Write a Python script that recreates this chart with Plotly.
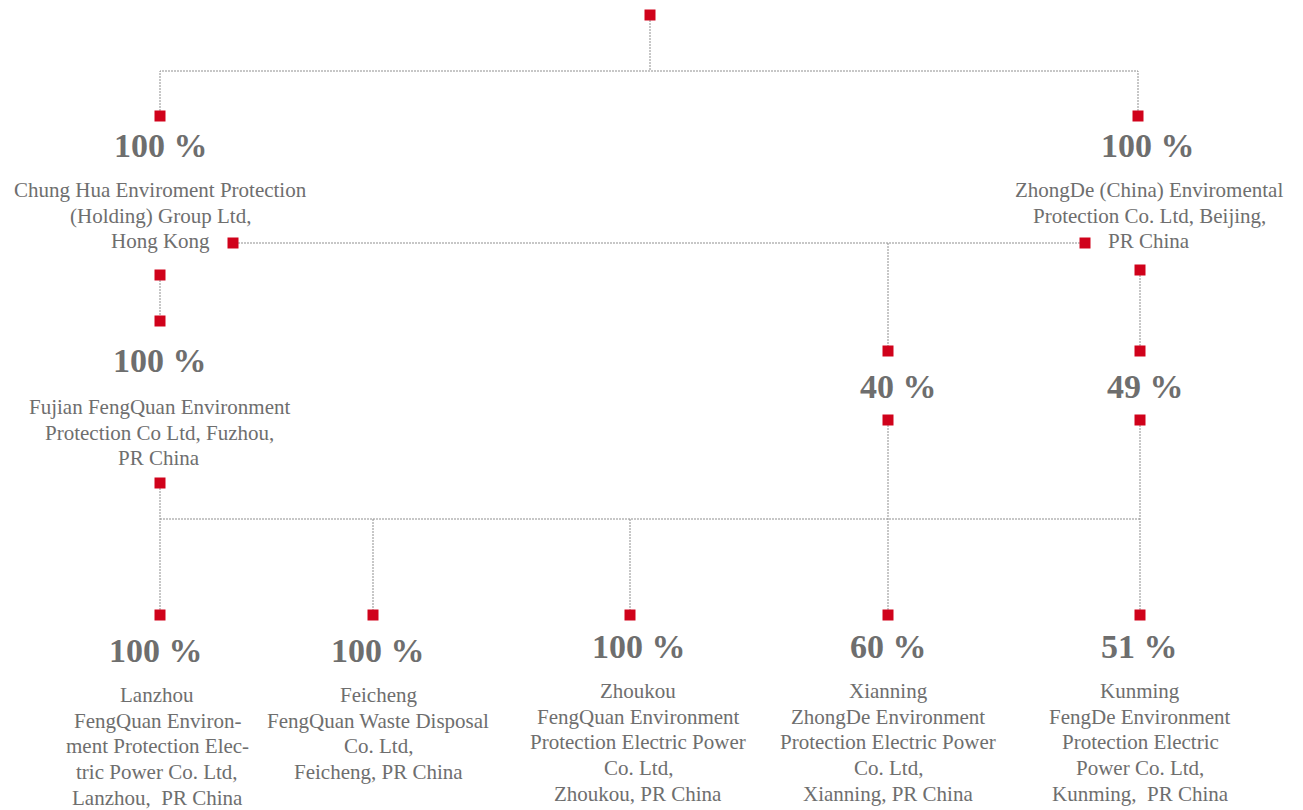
import plotly.graph_objects as go

# ---- data ----
companies = [
    "Chung Hua Enviroment Protection<br>(Holding) Group Ltd,<br>Hong Kong",
    "ZhongDe (China) Enviromental<br>Protection Co. Ltd, Beijing,<br>PR China",
    "Fujian FengQuan Environment<br>Protection Co Ltd, Fuzhou,<br>PR China",
    "Lanzhou<br>FengQuan Environ-<br>ment Protection Elec-<br>tric Power Co. Ltd,<br>Lanzhou,  PR China",
    "Feicheng<br>FengQuan Waste Disposal<br>Co. Ltd,<br>Feicheng, PR China",
    "Zhoukou<br>FengQuan Environment<br>Protection Electric Power<br>Co. Ltd,<br>Zhoukou, PR China",
    "Xianning<br>ZhongDe Environment<br>Protection Electric Power<br>Co. Ltd,<br>Xianning, PR China",
    "Kunming<br>FengDe Environment<br>Protection Electric<br>Power Co. Ltd,<br>Kunming,  PR China",
]
ownership = [100, 100, 100, 100, 100, 100, 60, 51]
joint_stakes = [40, 49]   # ZhongDe stakes in Xianning / Kunming

# ---- layout (pixel space of the page) ----
name_pos = [(160, 190), (1149, 190), (159, 407), (157, 695), (378, 695), (638, 691), (888, 691), (1140, 691)]
pct_pos = [(161, 145), (1148, 145), (160, 360), (156, 650), (378, 650), (639, 646), (888, 646), (1139, 646)]
joint_pos = [(898, 386), (1145, 386)]
LINE_H = 25.7

markers_x = [650, 160, 1138, 233, 1085, 160, 160, 1140, 888, 1140, 888, 1140, 160,
             160, 373, 630, 888, 1140]
markers_y = [15, 116, 116, 243, 243, 275, 321, 270, 351, 351, 420, 420, 483,
             615, 615, 615, 615, 615]

connectors = [
    [(650, 20), (650, 71)],
    [(160, 111), (160, 71), (1138, 71), (1138, 111)],
    [(238, 243), (1080, 243)],
    [(888, 243), (888, 346)],
    [(160, 280), (160, 316)],
    [(1140, 275), (1140, 346)],
    [(160, 488), (160, 610)],
    [(160, 519), (1140, 519)],
    [(373, 519), (373, 610)],
    [(630, 519), (630, 610)],
    [(888, 425), (888, 610)],
    [(1140, 425), (1140, 610)],
]

RED = "#d0021b"
GREY = "#6e6e6e"
LINE = "#8f8f8f"
FONT = "Liberation Serif"
OFF = 8  # default page body margin

fig = go.Figure()
for seg in connectors:
    fig.add_trace(go.Scatter(
        x=[p[0] for p in seg], y=[p[1] for p in seg], mode="lines",
        line=dict(color=LINE, width=1, dash="2px,1px"), hoverinfo="skip", showlegend=False))

fig.add_trace(go.Scatter(
    x=markers_x, y=markers_y, mode="markers",
    marker=dict(symbol="square", size=11, color=RED, line=dict(width=0)),
    hoverinfo="skip", showlegend=False))

for (x, y), name in zip(name_pos, companies):
    for i, line in enumerate(name.split("<br>")):
        fig.add_annotation(x=x, y=y + i * LINE_H, text=line, showarrow=False,
                           xanchor="center", yanchor="middle", align="center",
                           font=dict(family=FONT, size=21, color=GREY))
for (x, y), v in zip(pct_pos + joint_pos, ownership + joint_stakes):
    fig.add_annotation(x=x, y=y, text=f"<b>{v} %</b>", showarrow=False, xanchor="center",
                       yanchor="middle", font=dict(family=FONT, size=34, color=GREY))

fig.update_layout(
    width=1303 - OFF, height=810 - OFF, margin=dict(l=0, r=0, t=0, b=0),
    paper_bgcolor="white", plot_bgcolor="white",
    xaxis=dict(range=[OFF, 1303], visible=False, fixedrange=True),
    yaxis=dict(range=[810, OFF], visible=False, fixedrange=True),
)
fig.write_html("out.html")
